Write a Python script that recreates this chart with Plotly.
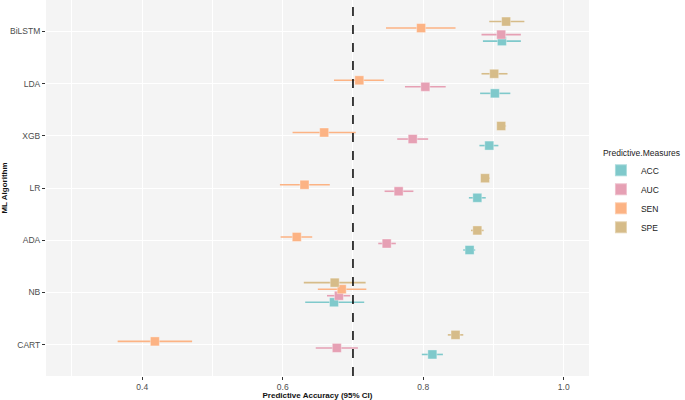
import plotly.graph_objects as go

# algorithms, bottom to top
algorithms = ['CART', 'NB', 'ADA', 'LR', 'XGB', 'LDA', 'BiLSTM']
measures = ['ACC', 'AUC', 'SEN', 'SPE']
colors = {'ACC': '#7fc9cb', 'AUC': '#e6a0b4', 'SEN': '#fcb384', 'SPE': '#d6bc89'}

# estimate, lower and upper 95% CI, in algorithm order above
acc = [0.813, 0.673, 0.866, 0.877, 0.894, 0.902, 0.912]
acc_lo = [0.798, 0.632, 0.857, 0.865, 0.880, 0.881, 0.885]
acc_hi = [0.828, 0.716, 0.874, 0.889, 0.907, 0.924, 0.939]

auc = [0.677, 0.680, 0.748, 0.765, 0.785, 0.803, 0.911]
auc_lo = [0.647, 0.663, 0.736, 0.745, 0.763, 0.774, 0.883]
auc_hi = [0.707, 0.696, 0.761, 0.786, 0.807, 0.832, 0.939]

sen = [0.418, 0.684, 0.620, 0.631, 0.659, 0.709, 0.797]
sen_lo = [0.365, 0.650, 0.597, 0.596, 0.614, 0.673, 0.747]
sen_hi = [0.471, 0.719, 0.642, 0.667, 0.704, 0.744, 0.846]

spe = [0.846, 0.674, 0.877, 0.888, 0.911, 0.901, 0.918]
spe_lo = [0.835, 0.630, 0.868, 0.884, 0.905, 0.883, 0.894]
spe_hi = [0.857, 0.718, 0.886, 0.895, 0.918, 0.920, 0.944]

data = {
    'ACC': (acc, acc_lo, acc_hi),
    'AUC': (auc, auc_lo, auc_hi),
    'SEN': (sen, sen_lo, sen_hi),
    'SPE': (spe, spe_lo, spe_hi),
}

font = 'Liberation Sans, Arial, sans-serif'
fig = go.Figure()

# dodge the four measures inside each algorithm row (width 0.5)
dodge = 0.5 / len(measures)
for i, m in enumerate(measures):
    est, lo, hi = data[m]
    ypos = [k + 1 + (i - 1.5) * dodge for k in range(len(algorithms))]
    fig.add_trace(go.Scatter(
        x=est, y=ypos, mode='markers', name=m,
        marker=dict(symbol='square', size=9, color=colors[m],
                    line=dict(width=1, color='rgba(255,255,255,0.35)')),
        error_x=dict(type='data', symmetric=False,
                     array=[h - e for h, e in zip(hi, est)],
                     arrayminus=[e - l for e, l in zip(est, lo)],
                     color=colors[m], thickness=1.6, width=0),
    ))

# reference line at 0.7
fig.add_vline(x=0.7, line=dict(color='black', width=1.5, dash='dash'))

fig.update_layout(
    width=685, height=400,
    margin=dict(l=46, r=96, t=0, b=24, autoexpand=False),
    paper_bgcolor='white', plot_bgcolor='#f4f4f4',
    font=dict(family=font, size=8, color='#4d4d4d'),
    legend=dict(
        title=dict(text='Predictive.Measures', font=dict(size=8.5, color='#222')),
        x=1.022, xanchor='left', y=0.615, yanchor='top',
        font=dict(size=8.5, color='#222'), itemsizing='constant',
        tracegroupgap=0, bgcolor='rgba(0,0,0,0)',
    ),
    showlegend=True,
)
fig.update_xaxes(
    range=[0.263, 1.036], tickvals=[0.4, 0.6, 0.8, 1.0], ticktext=['0.4', '0.6', '0.8', '1.0'],
    showgrid=True, gridcolor='white', gridwidth=1.2, zeroline=False, automargin=False,
    minor=dict(tickvals=[0.3, 0.5, 0.7, 0.9], showgrid=True, gridcolor='white', gridwidth=0.6),
    ticks='outside', ticklen=3, tickcolor='#333', tickfont=dict(size=8.5, color='#4d4d4d'),
    title=dict(text='<b>Predictive Accuracy (95% CI)</b>', font=dict(size=8, color='#111'), standoff=1),
)
fig.update_yaxes(
    range=[0.4, 7.6], tickvals=list(range(1, len(algorithms) + 1)), ticktext=algorithms,
    showgrid=True, gridcolor='white', gridwidth=1.2, zeroline=False, automargin=False,
    ticks='outside', ticklen=3, tickcolor='#333', tickfont=dict(size=8.5, color='#4d4d4d'),
    title=dict(text='<b>ML Algorithm</b>', font=dict(size=8, color='#111'), standoff=4),
)

# the page body has an 8px default margin; drop it so the figure fills the window
fig.write_html('out.html', config={'displayModeBar': False},
               post_script="document.body.style.margin='0';")
